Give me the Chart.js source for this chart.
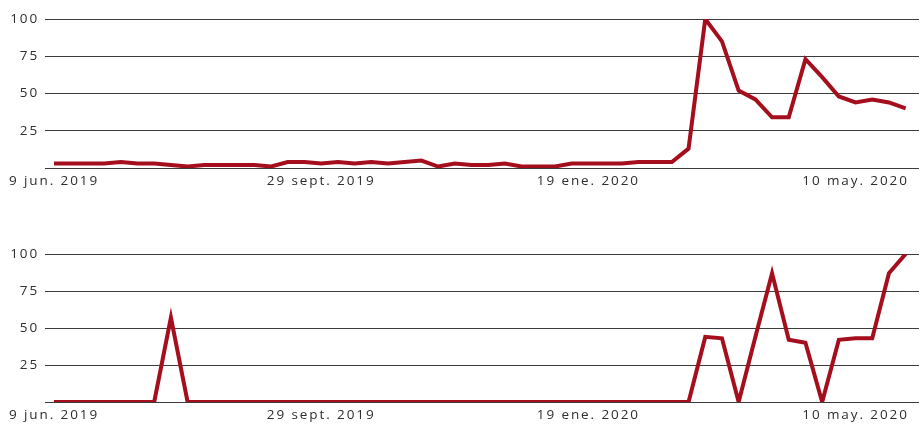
<!DOCTYPE html>
<html>
<head>
<meta charset="utf-8">
<script src="https://cdn.jsdelivr.net/npm/chart.js@4"></script>
<style>
  html, body { margin: 0; padding: 0; background: #fff; }
  .box { position: relative; width: 923px; height: 213px; }
</style>
</head>
<body>
<div class="box"><canvas id="c1"></canvas></div>
<div class="box"><canvas id="c2"></canvas></div>
<script>
// Weekly points, 9 jun. 2019 .. 31 may. 2020 (52 weeks)
const tickWeeks = [0, 16, 32, 48];
const tickLabels = ['9 jun. 2019', '29 sept. 2019', '19 ene. 2020', '10 may. 2020'];
const yTicks = [0, 25, 50, 75, 100];

const seriesTop = [3,3,3,3,4,3,3,2,1,2, 2,2,2,1,4,4,3,4,3,4, 3,4,5,1,3,2,2,3,1,1,
                   1,3,3,3,3,4,4,4,13,100, 85,52,46,34,34,73,61,48,44,46, 44,40];
const seriesBottom = [0,0,0,0,0,0,0,57,0,0, 0,0,0,0,0,0,0,0,0,0, 0,0,0,0,0,0,0,0,0,0,
                      0,0,0,0,0,0,0,0,0,44, 43,0,44,87,42,40,0,42,43,43, 87,100];

const RED = '#a50e1c';
const TEXT = '#2e2e2e';
const GRID = '#3c3c3c';
const FONT = { family: '"Open Sans", sans-serif', size: 13.5 };

const spacingPlugin = {
  id: 'spacing',
  beforeLayout(chart) { chart.ctx.letterSpacing = '1.9px'; },
  beforeDraw(chart) { chart.ctx.letterSpacing = '1.9px'; }
};

function makeChart(id, values, padTop, padBottom) {
  return new Chart(document.getElementById(id), {
    type: 'line',
    data: {
      datasets: [{
        data: values.map((v, i) => ({ x: i, y: v })),
        borderColor: RED,
        borderWidth: 4,
        pointRadius: 0,
        tension: 0,
        fill: false,
        borderJoinStyle: 'miter'
      }]
    },
    options: {
      responsive: true,
      maintainAspectRatio: false,
      animation: false,
      layout: { padding: { top: padTop, bottom: padBottom, left: 0, right: 4 } },
      plugins: { legend: { display: false }, tooltip: { enabled: false } },
      scales: {
        x: {
          type: 'linear',
          min: -0.54,
          max: 51.8,
          grid: { display: false, drawTicks: false },
          border: { display: false },
          afterBuildTicks: (s) => { s.ticks = tickWeeks.map(v => ({ value: v })); },
          afterFit: (s) => { s.height = 24; },
          ticks: {
            autoSkip: false,
            maxRotation: 0,
            padding: 5,
            color: TEXT,
            font: FONT,
            callback: (v) => { const k = tickWeeks.indexOf(v); return k >= 0 ? tickLabels[k] : ''; }
          }
        },
        y: {
          min: 0,
          max: 100,
          grid: { color: GRID, lineWidth: 1, drawTicks: false },
          border: { display: false },
          afterBuildTicks: (s) => { s.ticks = yTicks.map(v => ({ value: v })); },
          afterFit: (s) => { s.width = 45; },
          ticks: {
            padding: 6,
            color: TEXT,
            font: FONT,
            callback: (v) => v === 0 ? '' : String(v)
          }
        }
      }
    },
    plugins: [spacingPlugin]
  });
}

makeChart('c1', seriesTop, 19, 21);
makeChart('c2', seriesBottom, 41, 0);
</script>
</body>
</html>
